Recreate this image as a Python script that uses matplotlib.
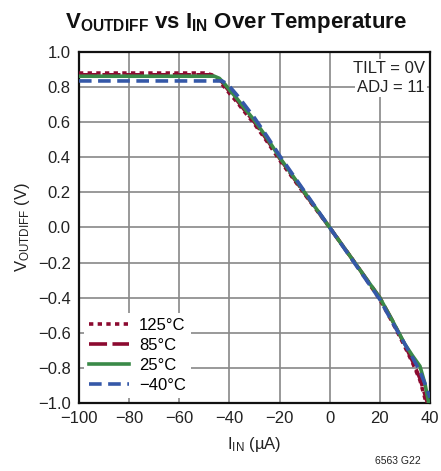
import matplotlib
matplotlib.use('Agg')
from matplotlib import pyplot as plt

plt.rcParams['font.family'] = ['Liberation Sans Narrow', 'Liberation Sans', 'DejaVu Sans']
plt.rcParams['mathtext.default'] = 'regular'

# 125°C (dotted)
x_125 = [-100, -50, -47, -45, -42, -40, -37, -34, -30, -25, -20, -10, 0, 10, 20, 25, 30, 33, 36, 38.5]
y_125 = [0.88, 0.88, 0.87, 0.85, 0.80, 0.765, 0.715, 0.66, 0.59, 0.49, 0.385, 0.19, 0.0,
         -0.20, -0.41, -0.54, -0.68, -0.77, -0.87, -1.0]

# 85°C (long dash)
x_85 = [-100, -48, -45, -43, -40, -37, -34, -30, -25, -20, -10, 0, 10, 20, 25, 30, 33, 36, 39]
y_85 = [0.87, 0.87, 0.855, 0.83, 0.775, 0.725, 0.67, 0.60, 0.50, 0.395, 0.195, 0.0,
        -0.20, -0.40, -0.53, -0.67, -0.76, -0.86, -1.0]

# 25°C (solid)
x_25 = [-100, -46, -44, -42, -40, -37, -34, -30, -25, -20, -15, -10, -5, 0, 5, 10, 15, 20,
        25, 30, 33, 36, 38, 39.5]
y_25 = [0.862, 0.862, 0.85, 0.82, 0.785, 0.735, 0.68, 0.61, 0.51, 0.40, 0.30, 0.20, 0.10, 0.0,
        -0.10, -0.20, -0.30, -0.40, -0.53, -0.665, -0.73, -0.79, -0.89, -1.0]

# -40°C (dashed)
x_m40 = [-100, -43, -41, -40, -37, -34, -30, -25, -20, -10, 0, 10, 20, 25, 30, 33, 36, 38, 40]
y_m40 = [0.835, 0.835, 0.82, 0.805, 0.755, 0.70, 0.625, 0.52, 0.41, 0.205, 0.0,
         -0.205, -0.41, -0.54, -0.665, -0.74, -0.82, -0.89, -0.97]

x_ticks = [-100, -80, -60, -40, -20, 0, 20, 40]
x_tick_labels = ['\u2212100', '\u221280', '\u221260', '\u221240', '\u221220', '0', '20', '40']
y_ticks = [1.0, 0.8, 0.6, 0.4, 0.2, 0.0, -0.2, -0.4, -0.6, -0.8, -1.0]
y_tick_labels = ['1.0', '0.8', '0.6', '0.4', '0.2', '0.0',
                 '\u22120.2', '\u22120.4', '\u22120.6', '\u22120.8', '\u22121.0']

RED = '#8c0a30'
GREEN = '#3a8a48'
BLUE = '#3558a8'

fig = plt.figure(figsize=(4.41, 4.71), dpi=100)
ax = fig.add_axes([0.179, 0.1444, 0.796, 0.7452])

ax.plot(x_125, y_125, color=RED, lw=2.6, linestyle=(0, (1.2, 1.2)), label='125\u00b0C', zorder=3)
ax.plot(x_85, y_85, color=RED, lw=2.6, linestyle=(0, (5, 1.5)), label='85\u00b0C', zorder=3)
ax.plot(x_25, y_25, color=GREEN, lw=2.6, linestyle='-', label='25\u00b0C', zorder=4)
ax.plot(x_m40, y_m40, color=BLUE, lw=2.6, linestyle=(0, (3.5, 1.8)), label='\u221240\u00b0C', zorder=5)

ax.set_xlim(-100, 40)
ax.set_ylim(-1.0, 1.0)
ax.set_xticks(x_ticks)
ax.set_xticklabels(x_tick_labels)
ax.set_yticks(y_ticks)
ax.set_yticklabels(y_tick_labels)
ax.tick_params(length=0, labelsize=12, pad=6, colors='#222222')
ax.grid(True, color='#888888', linewidth=1.2, zorder=0)
ax.set_axisbelow(True)
for s in ax.spines.values():
    s.set_linewidth(1.6)
    s.set_color('#111111')

leg = ax.legend(loc='lower left', fontsize=12, frameon=True, facecolor='white',
                edgecolor='none', framealpha=1, handlelength=2.4, handletextpad=0.6,
                labelspacing=0.3, borderaxespad=0.3, borderpad=0.3)
leg.set_zorder(6)

ax.text(0.985, 0.952, 'TILT = 0V', transform=ax.transAxes, ha='right', va='center',
        fontsize=12, color='#222222', zorder=7,
        bbox=dict(facecolor='white', edgecolor='none', pad=1.5))
ax.text(0.985, 0.900, 'ADJ = 11', transform=ax.transAxes, ha='right', va='center',
        fontsize=12, color='#222222', zorder=7,
        bbox=dict(facecolor='white', edgecolor='none', pad=1.5))

ax.set_xlabel('I$_{IN}$ (\u00b5A)', fontsize=12, color='#222222', labelpad=6)
ax.set_ylabel('V$_{OUTDIFF}$ (V)', fontsize=12, color='#222222', labelpad=4)

fig.text(0.535, 0.951, 'V$_{OUTDIFF}$ vs I$_{IN}$ Over Temperature', ha='center', va='center',
         fontsize=16, fontweight='bold', color='#111111')
fig.text(0.955, 0.022, '6563 G22', ha='right', va='center', fontsize=7.5, color='#222222')

fig.savefig('out.png', dpi=100)
